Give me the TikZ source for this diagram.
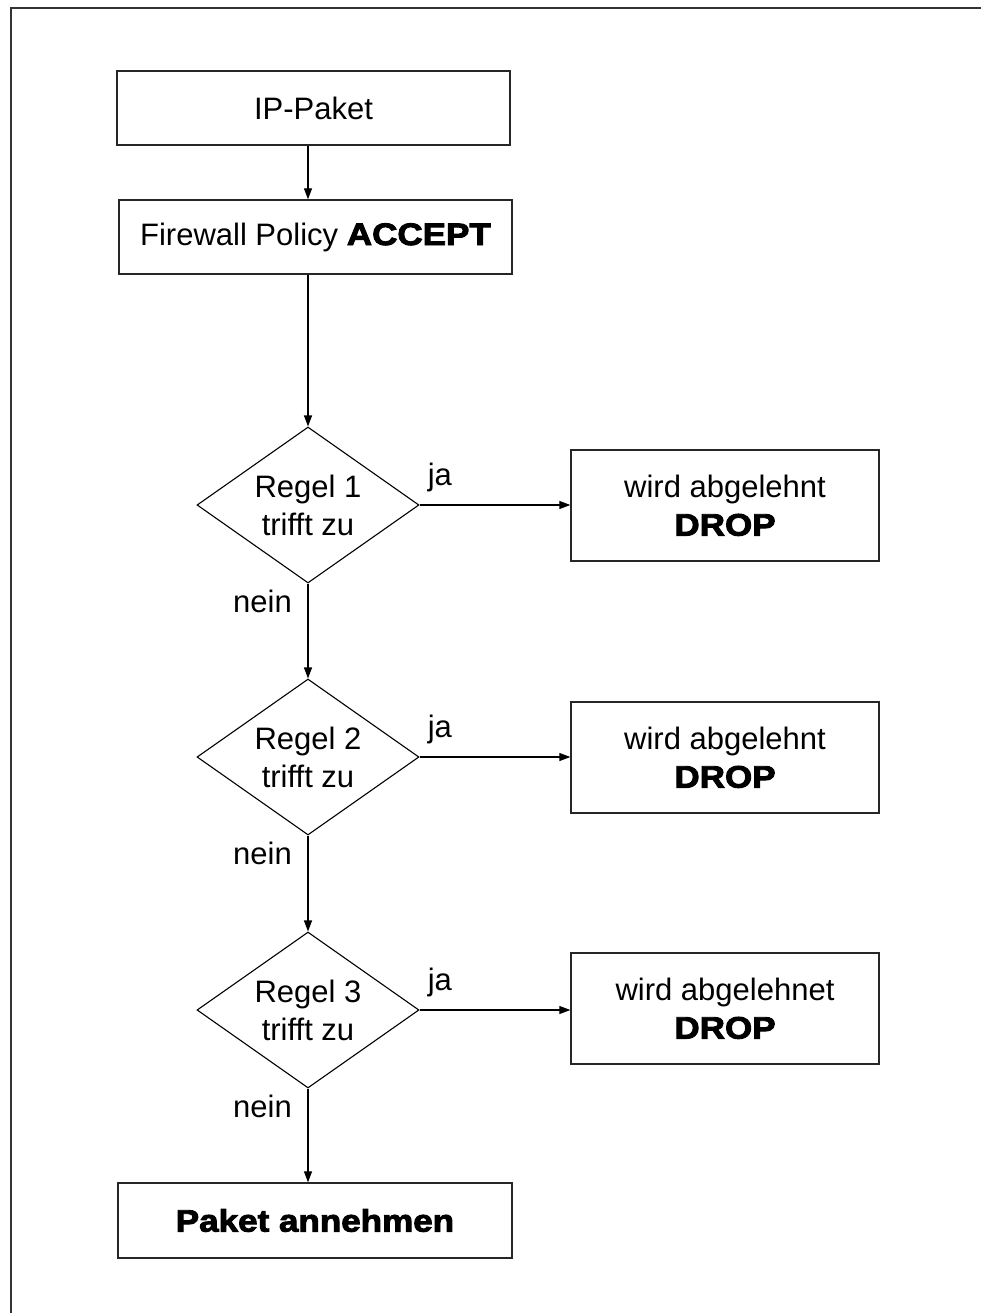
\documentclass[tikz,border=0pt]{standalone}
\usepackage{fontspec}
\setmainfont{Liberation Sans}[BoldFeatures={FakeBold=3,FakeStretch=1.13}]
\usetikzlibrary{shapes.geometric,arrows.meta,calc}
\tikzset{
  box/.style={draw=black!85, line width=1.3pt, inner sep=0pt, align=center},
  dia/.style={draw=black, diamond, line width=1.1pt, inner sep=0pt, minimum width=222pt, minimum height=156pt},
  arr/.style={-{Triangle[length=11pt,width=8pt]}, line width=1.1pt},
  lbl/.style={inner sep=0pt}
}
\begin{document}
\begin{tikzpicture}[x=1pt,y=-1pt,font=\fontsize{31}{38}\selectfont]
\useasboundingbox (0,0) rectangle (981,1313);
\draw[line width=1.5pt, draw=black!80] (11,1313) -- (11,8) -- (981,8);

\node[box, minimum width=393pt, minimum height=74pt] (ip) at (313.5,108) {IP-Paket};
\node[box, minimum width=393pt, minimum height=74pt] (fw) at (315.5,237) {Firewall Policy \textbf{ACCEPT}};

\node[dia] (d1) at (308,505) {};
\node[dia] (d2) at (308,757) {};
\node[dia] (d3) at (308,1010) {};
\node[align=center, inner sep=0pt] (t1) at (d1) {Regel 1\\trifft zu};
\node[align=center, inner sep=0pt] (t2) at (d2) {Regel 2\\trifft zu};
\node[align=center, inner sep=0pt] (t3) at (d3) {Regel 3\\trifft zu};

\node[box, minimum width=308pt, minimum height=111pt] (r1) at (725,505.5) {wird abgelehnt\\\textbf{DROP}};
\node[box, minimum width=308pt, minimum height=111pt] (r2) at (725,757.5) {wird abgelehnt\\\textbf{DROP}};
\node[box, minimum width=308pt, minimum height=111pt] (r3) at (725,1008.5) {wird abgelehnet\\\textbf{DROP}};

\node[box, minimum width=394pt, minimum height=75pt] (acc) at (315,1220.5) {\textbf{\addfontfeature{FakeStretch=1.2}Paket annehmen}};

\draw[arr] (ip.south -| d1.north) -- (fw.north -| d1.north);
\draw[arr] (fw.south -| d1.north) -- (d1.north);
\draw[arr] (d1.east) -- (r1.west |- d1.east);
\draw[arr] (d2.east) -- (r2.west |- d2.east);
\draw[arr] (d3.east) -- (r3.west |- d3.east);
\draw[arr] (d1.south) -- (d2.north);
\draw[arr] (d2.south) -- (d3.north);
\draw[arr] (d3.south) -- (acc.north -| d3.south);

\node[lbl, anchor=base west] (ja1) at ($(d1.east)+(8,-20)$) {ja};
\node[lbl, anchor=base west] (ja2) at ($(d2.east)+(8,-20)$) {ja};
\node[lbl, anchor=base west] (ja3) at ($(d3.east)+(8,-20)$) {ja};
\node[lbl, anchor=base east] (n1) at ($(d1.south)+(-16,29)$) {nein};
\node[lbl, anchor=base east] (n2) at ($(d2.south)+(-16,29)$) {nein};
\node[lbl, anchor=base east] (n3) at ($(d3.south)+(-16,29)$) {nein};
\end{tikzpicture}
\end{document}
